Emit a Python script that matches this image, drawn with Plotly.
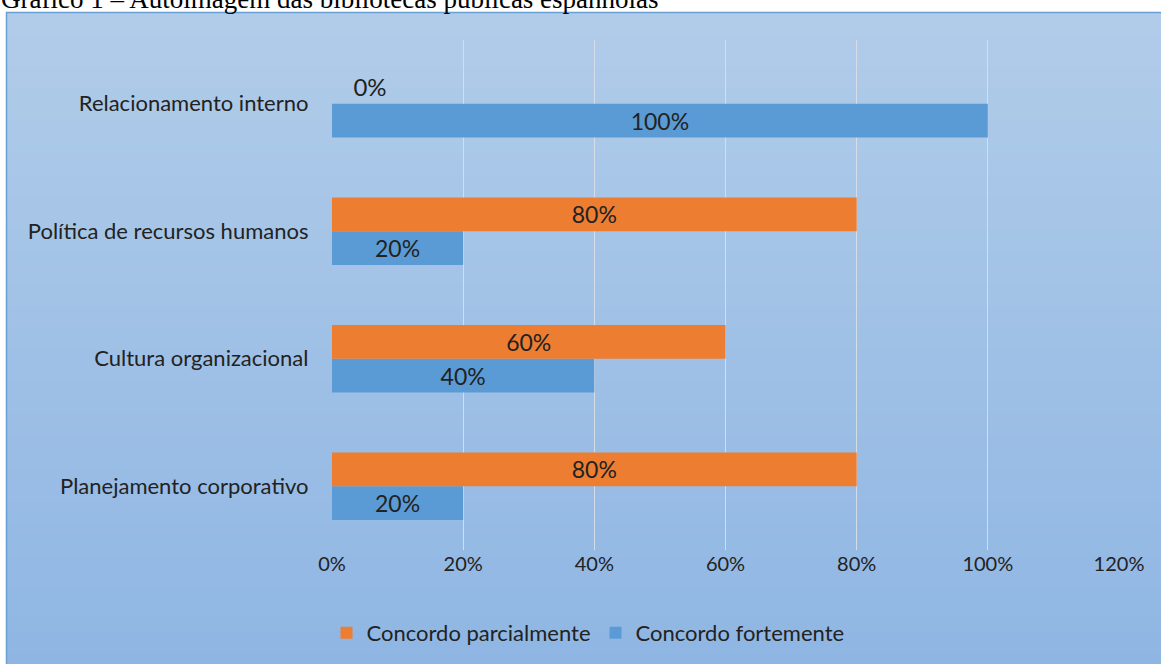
import plotly.graph_objects as go

categories = ["Planejamento corporativo", "Cultura organizacional",
              "Política de recursos humanos", "Relacionamento interno"]
fortemente = [0.20, 0.40, 0.20, 1.00]
parcialmente = [0.80, 0.60, 0.80, 0.00]
x_ticks = [0, 0.2, 0.4, 0.6, 0.8, 1.0, 1.2]
x_tick_labels = ["0%", "20%", "40%", "60%", "80%", "100%", "120%"]

W, H = 1161, 664
L, R, T, B = 332, 42, 40, 114
pw, ph = W - L - R, H - T - B

def px_x(x):
    return (x - L) / pw

def px_y(y):
    return (H - B - y) / ph

FONT = "Lato"
TXT = "#222222"

fig = go.Figure()
fig.add_trace(go.Bar(
    y=categories, x=fortemente, orientation="h", name="Concordo fortemente",
    marker=dict(color="#5b9bd5", line=dict(width=0)),
    text=[f"{v:.0%}" for v in fortemente], textposition="inside",
    insidetextanchor="middle", textfont=dict(family=FONT, size=24, color=TXT),
    cliponaxis=False, hoverinfo="skip",
))
fig.add_trace(go.Bar(
    y=categories, x=parcialmente, orientation="h", name="Concordo parcialmente",
    marker=dict(color="#ed7d31", line=dict(width=0)),
    text=[f"{v:.0%}" if v > 0 else "\u00a0\u00a0\u00a0" + f"{v:.0%}" for v in parcialmente],
    textposition=["inside" if v > 0 else "outside" for v in parcialmente],
    insidetextanchor="middle", textfont=dict(family=FONT, size=24, color=TXT),
    cliponaxis=False, hoverinfo="skip",
))

# gradient background of chart area
shapes = []
y_top, y_bot = 12, H
n = 60
c0 = (177, 204, 233)
c1 = (143, 182, 227)
for i in range(n):
    ya = y_top + (y_bot - y_top) * i / n
    yb = y_top + (y_bot - y_top) * (i + 1) / n + 2
    t = i / (n - 1)
    c = tuple(round(c0[k] + (c1[k] - c0[k]) * t) for k in range(3))
    shapes.append(dict(type="rect", xref="paper", yref="paper",
                       x0=px_x(6), x1=px_x(W + 2), y0=px_y(min(yb, H + 2)), y1=px_y(ya),
                       fillcolor=f"rgb{c}", line=dict(width=0), layer="below"))
shapes.append(dict(type="rect", xref="paper", yref="paper",
                   x0=px_x(6.5), x1=px_x(W + 5), y0=px_y(H + 5), y1=px_y(12.5),
                   fillcolor="rgba(0,0,0,0)", line=dict(width=1.5, color="#6a9fd4"),
                   layer="below"))
fig.update_layout(shapes=shapes)

fig.add_annotation(text="Gráfico 1 – Autoimagem das bibliotecas públicas espanholas",
                   xref="paper", yref="paper", x=px_x(-1), y=px_y(-1),
                   xanchor="left", yanchor="middle", showarrow=False,
                   font=dict(family="Liberation Serif", size=27, color="#000000"))

fig.update_layout(
    width=W, height=H,
    margin=dict(l=L, r=R, t=T, b=B, pad=0, autoexpand=False),
    paper_bgcolor="white", plot_bgcolor="rgba(0,0,0,0)",
    barmode="group", bargap=0.47, bargroupgap=0,
    showlegend=True,
    legend=dict(orientation="h", xref="container", yref="container",
                x=588 / W, xanchor="center", y=(H - 633) / H, yanchor="middle",
                traceorder="reversed", font=dict(family=FONT, size=22, color=TXT),
                bgcolor="rgba(0,0,0,0)", itemwidth=30),
    xaxis=dict(range=[0, 1.2], tickvals=x_ticks, ticktext=x_tick_labels,
               showgrid=True, gridcolor="rgba(217,224,232,0.9)", gridwidth=1,
               zeroline=False, showline=False, ticks="", automargin=False,
               fixedrange=True, tickfont=dict(family=FONT, size=20, color=TXT)),
    yaxis=dict(categoryorder="array", categoryarray=categories,
               showgrid=False, zeroline=False, showline=False, ticks="",
               ticksuffix="    ", automargin=False, fixedrange=True,
               tickfont=dict(family=FONT, size=22, color=TXT)),
)
fig.write_html("out.html", config={"displayModeBar": False},
               post_script="document.body.style.margin='0';document.body.style.overflow='hidden';")
